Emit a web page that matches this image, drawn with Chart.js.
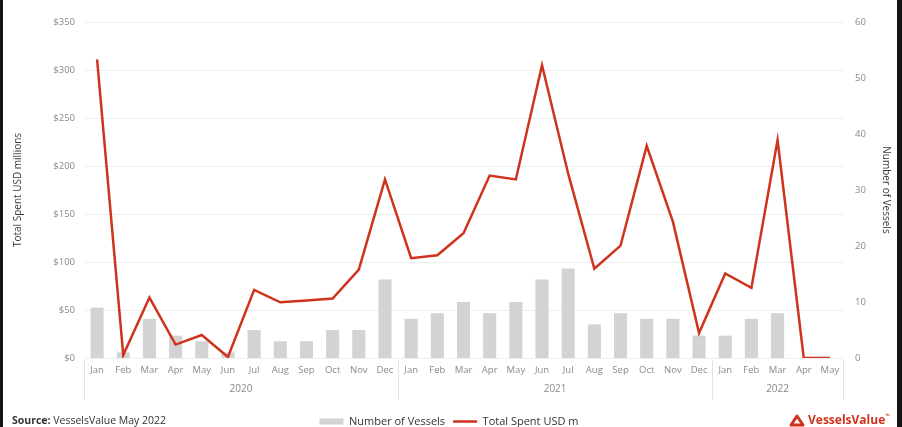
<!DOCTYPE html>
<html>
<head>
<meta charset="utf-8">
<script src="https://cdn.jsdelivr.net/npm/chart.js@4.4.1/dist/chart.umd.min.js"></script>
<style>
  html, body { margin: 0; padding: 0; background: #fff; }
  .frame { position: relative; width: 902px; height: 427px; overflow: hidden; }
  .edge { position: absolute; top: 0; bottom: 0; background: #151515; }
</style>
</head>
<body>
<div class="frame">
  <canvas id="chart" width="902" height="427"></canvas>
  <div class="edge" style="left:0;width:3px"></div>
  <div class="edge" style="right:0;width:5px"></div>
</div>
<script>
// Monthly data, Jan 2020 - May 2022
const months = [
  "Jan", "Feb", "Mar", "Apr", "May", "Jun", "Jul", "Aug", "Sep", "Oct", "Nov", "Dec",
  "Jan", "Feb", "Mar", "Apr", "May", "Jun", "Jul", "Aug", "Sep", "Oct", "Nov", "Dec",
  "Jan", "Feb", "Mar", "Apr", "May",
]
const years      = ["2020", "2021", "2022"]
const yearStarts = [0, 12, 24]

const vessels = [
  9, 1, 7, 4, 3, 1, 5, 3, 3, 5, 5, 14,
  7, 8, 10, 8, 10, 14, 16, 6, 8, 7, 7, 4,
  4, 7, 8, 0, 0,
]
const spentUsdM = [
  311, 3, 63, 14, 24, 1, 71, 58, 60, 62, 92, 186,
  104, 107, 130, 190, 186, 305, 192, 93, 117, 221, 142, 26,
  88, 73, 227, 0, 0,
]

const FONT = "'Open Sans', 'DejaVu Sans', sans-serif"
const RED  = "#cf331d"
const GREY_BAR = "#d3d3d3"

// Year row under the month ticks, separators, source note and logo
const extras = {
  id: "extras",
  afterDraw(chart) {
    const { ctx, chartArea } = chart
    const x = chart.scales.x
    const half = (x.getPixelForValue(1) - x.getPixelForValue(0)) / 2
    ctx.save()

    // group separators
    ctx.strokeStyle = "#e4e4e4"
    ctx.lineWidth = 1
    const seps = [chartArea.left, chartArea.right]
    for (let i = 1; i < yearStarts.length; i++) seps.push(x.getPixelForValue(yearStarts[i]) - half)
    for (const sx of seps) {
      ctx.beginPath()
      ctx.moveTo(Math.round(sx) + 0.5, chartArea.bottom + 2)
      ctx.lineTo(Math.round(sx) + 0.5, chartArea.bottom + 42)
      ctx.stroke()
    }

    // year labels
    ctx.fillStyle = "#8a8a8a"
    ctx.font = `10px ${FONT}`
    ctx.textAlign = "center"
    ctx.textBaseline = "middle"
    years.forEach((label, i) => {
      const from = yearStarts[i]
      const to = i + 1 < yearStarts.length ? yearStarts[i + 1] - 1 : months.length - 1
      const cx = (x.getPixelForValue(from) + x.getPixelForValue(to)) / 2
      ctx.fillText(label, cx, chartArea.bottom + 31)
    })

    // source note
    const sy = 421
    ctx.textAlign = "left"
    ctx.fillStyle = "#333"
    ctx.font = `bold 10.5px ${FONT}`
    ctx.fillText("Source:", 12, sy)
    const w = ctx.measureText("Source:").width
    ctx.font = `10.5px ${FONT}`
    ctx.fillText(" VesselsValue May 2022", 12 + w, sy)

    // logo
    ctx.strokeStyle = RED
    ctx.lineWidth = 3
    ctx.lineJoin = "round"
    ctx.beginPath()
    ctx.moveTo(797, sy - 5)
    ctx.lineTo(803, sy + 4)
    ctx.lineTo(791, sy + 4)
    ctx.closePath()
    ctx.stroke()
    ctx.fillStyle = RED
    ctx.font = `bold 12px ${FONT}`
    ctx.fillText("VesselsValue", 808, sy)
    const lw = ctx.measureText("VesselsValue").width
    ctx.font = `6px ${FONT}`
    ctx.fillText("™", 808 + lw, sy - 5)

    ctx.restore()
  },
}

new Chart(document.getElementById("chart"), {
  data: {
    labels: months,
    datasets: [
      {
        type: "bar",
        label: "Number of Vessels",
        data: vessels,
        yAxisID: "y2",
        backgroundColor: GREY_BAR,
        borderWidth: 0,
        barPercentage: 0.5,
        categoryPercentage: 1,
        order: 1,
      },
      {
        type: "line",
        label: "Total Spent USD m",
        data: spentUsdM,
        yAxisID: "y",
        borderColor: RED,
        backgroundColor: RED,
        borderWidth: 2.5,
        pointRadius: 0,
        tension: 0,
        order: 0,
      },
    ],
  },
  options: {
    responsive: false,
    animation: false,
    layout: { padding: { top: 22, left: 0, right: 4, bottom: -10 } },
    scales: {
      x: {
        grid: { display: false, drawTicks: false },
        border: { display: false },
        ticks: { color: "#8a8a8a", font: { family: FONT, size: 9.5 }, padding: 7, maxRotation: 0, autoSkip: false },
        afterFit: (s) => { s.height = 50 },
      },
      y: {
        position: "left",
        min: 0,
        max: 350,
        grid: { color: "#efefef", drawTicks: false },
        border: { display: false },
        ticks: { stepSize: 50, color: "#8a8a8a", padding: 9, font: { family: FONT, size: 9.5 }, callback: (v) => "$" + v },
        title: { display: true, text: "Total Spent USD millions", color: "#3a3a3a", font: { family: FONT, size: 10 }, padding: { top: 12 } },
        afterFit: (s) => { s.width = 84 },
      },
      y2: {
        position: "right",
        min: 0,
        max: 60,
        grid: { display: false, drawTicks: false },
        border: { display: false },
        ticks: { stepSize: 10, color: "#8a8a8a", padding: 12, font: { family: FONT, size: 9.5 } },
        title: { display: true, text: "Number of Vessels", color: "#3a3a3a", font: { family: FONT, size: 10 }, padding: { top: 6 } },
        afterFit: (s) => { s.width = 55 },
      },
    },
    plugins: {
      tooltip: { enabled: false },
      legend: {
        position: "bottom",
        labels: {
          usePointStyle: true,
          pointStyleWidth: 24,
          boxHeight: 6,
          padding: 8,
          color: "#333",
          font: { family: FONT, size: 11 },
          sort: (a, b) => a.datasetIndex - b.datasetIndex,
          generateLabels: (chart) =>
            Chart.defaults.plugins.legend.labels.generateLabels(chart).map((item) => ({
              ...item,
              pointStyle: item.datasetIndex === 0 ? "rect" : "line",
            })),
        },
      },
    },
  },
  plugins: [extras],
})
</script>
</body>
</html>
